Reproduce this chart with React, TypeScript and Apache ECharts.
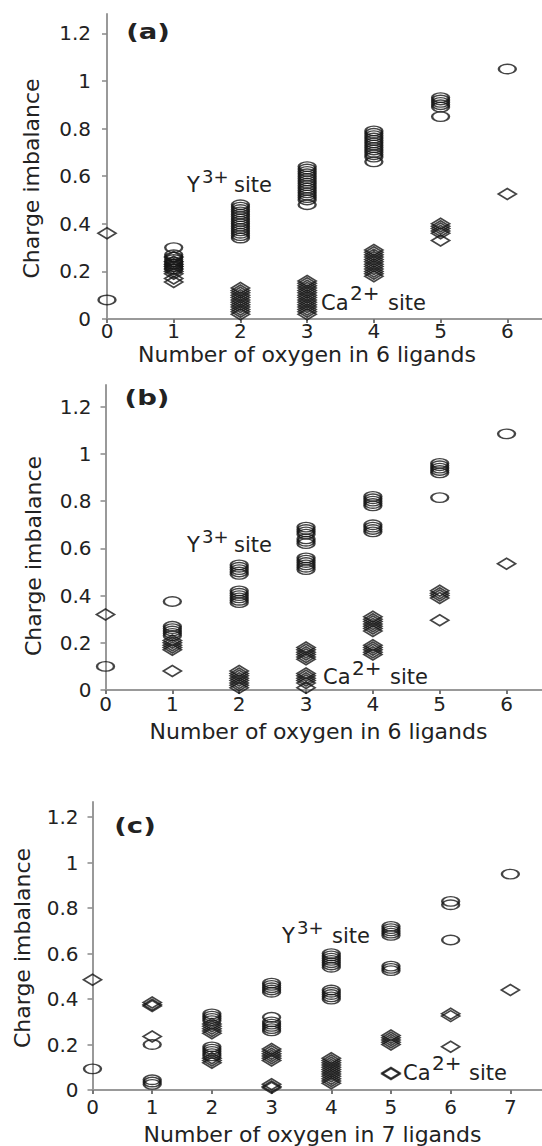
import React, { useEffect, useRef } from "react";
import * as echarts from "echarts";

// ---------- data ----------
const yTicks = [0, 0.2, 0.4, 0.6, 0.8, 1, 1.2];
const xTicks6 = [0, 1, 2, 3, 4, 5, 6];
const xTicks7 = [0, 1, 2, 3, 4, 5, 6, 7];

// panel (a): Y3+ site (ellipses) and Ca2+ site (diamonds)
const aY: [number, number][] = [
  [0, 0.08],
  [1, 0.3], [1, 0.27], [1, 0.26], [1, 0.25], [1, 0.24], [1, 0.23], [1, 0.22], [1, 0.21],
  [2, 0.48], [2, 0.47], [2, 0.46], [2, 0.45], [2, 0.44], [2, 0.43], [2, 0.42], [2, 0.41], [2, 0.4], [2, 0.39], [2, 0.38], [2, 0.37], [2, 0.36], [2, 0.35], [2, 0.34],
  [3, 0.64], [3, 0.63], [3, 0.62], [3, 0.61], [3, 0.6], [3, 0.59], [3, 0.58], [3, 0.57], [3, 0.56], [3, 0.55], [3, 0.54], [3, 0.53], [3, 0.52], [3, 0.51], [3, 0.5], [3, 0.48],
  [4, 0.79], [4, 0.78], [4, 0.77], [4, 0.76], [4, 0.75], [4, 0.74], [4, 0.73], [4, 0.72], [4, 0.71], [4, 0.7], [4, 0.69], [4, 0.68], [4, 0.66],
  [5, 0.93], [5, 0.92], [5, 0.91], [5, 0.9], [5, 0.89], [5, 0.85],
  [6, 1.05],
];
const aCa: [number, number][] = [
  [0, 0.36],
  [1, 0.26], [1, 0.24], [1, 0.23], [1, 0.22], [1, 0.21], [1, 0.2], [1, 0.19], [1, 0.17], [1, 0.155],
  [2, 0.13], [2, 0.12], [2, 0.11], [2, 0.1], [2, 0.09], [2, 0.08], [2, 0.07], [2, 0.06], [2, 0.05], [2, 0.04], [2, 0.03], [2, 0.02],
  [3, 0.16], [3, 0.15], [3, 0.14], [3, 0.13], [3, 0.12], [3, 0.11], [3, 0.1], [3, 0.09], [3, 0.08], [3, 0.07], [3, 0.06], [3, 0.05], [3, 0.04], [3, 0.03], [3, 0.02],
  [4, 0.29], [4, 0.28], [4, 0.27], [4, 0.26], [4, 0.25], [4, 0.24], [4, 0.23], [4, 0.22], [4, 0.21], [4, 0.2], [4, 0.19], [4, 0.18],
  [5, 0.4], [5, 0.39], [5, 0.38], [5, 0.37], [5, 0.36], [5, 0.33],
  [6, 0.525],
];

// panel (b)
const bY: [number, number][] = [
  [0, 0.1],
  [1, 0.375], [1, 0.27], [1, 0.26], [1, 0.25], [1, 0.24], [1, 0.23],
  [2, 0.53], [2, 0.52], [2, 0.51], [2, 0.5], [2, 0.49], [2, 0.42], [2, 0.41], [2, 0.4], [2, 0.39], [2, 0.38], [2, 0.37],
  [3, 0.69], [3, 0.68], [3, 0.67], [3, 0.66], [3, 0.64], [3, 0.63], [3, 0.62], [3, 0.56], [3, 0.55], [3, 0.54], [3, 0.53], [3, 0.52], [3, 0.51],
  [4, 0.82], [4, 0.81], [4, 0.8], [4, 0.79], [4, 0.78], [4, 0.7], [4, 0.69], [4, 0.68], [4, 0.67],
  [5, 0.96], [5, 0.95], [5, 0.94], [5, 0.93], [5, 0.92], [5, 0.815],
  [6, 1.085],
];
const bCa: [number, number][] = [
  [0, 0.32],
  [1, 0.21], [1, 0.2], [1, 0.19], [1, 0.18], [1, 0.17], [1, 0.08],
  [2, 0.08], [2, 0.07], [2, 0.06], [2, 0.05], [2, 0.04], [2, 0.03], [2, 0.02], [2, 0.01],
  [3, 0.18], [3, 0.17], [3, 0.16], [3, 0.15], [3, 0.14], [3, 0.13], [3, 0.07], [3, 0.06], [3, 0.05], [3, 0.04], [3, 0.03], [3, 0.01],
  [4, 0.31], [4, 0.3], [4, 0.29], [4, 0.28], [4, 0.27], [4, 0.26], [4, 0.25], [4, 0.19], [4, 0.18], [4, 0.17], [4, 0.16], [4, 0.15],
  [5, 0.42], [5, 0.41], [5, 0.4], [5, 0.39], [5, 0.295],
  [6, 0.535],
];

// panel (c)
const cY: [number, number][] = [
  [0, 0.093],
  [1, 0.2], [1, 0.045], [1, 0.035], [1, 0.025],
  [2, 0.335], [2, 0.325], [2, 0.315], [2, 0.305], [2, 0.19], [2, 0.18], [2, 0.17], [2, 0.16], [2, 0.15],
  [3, 0.47], [3, 0.46], [3, 0.45], [3, 0.44], [3, 0.43], [3, 0.32], [3, 0.3], [3, 0.29], [3, 0.28], [3, 0.27], [3, 0.26],
  [4, 0.6], [4, 0.59], [4, 0.58], [4, 0.57], [4, 0.56], [4, 0.55], [4, 0.54], [4, 0.44], [4, 0.43], [4, 0.42], [4, 0.41], [4, 0.4],
  [5, 0.72], [5, 0.71], [5, 0.7], [5, 0.69], [5, 0.68], [5, 0.545], [5, 0.535], [5, 0.525],
  [6, 0.83], [6, 0.815], [6, 0.66],
  [7, 0.95],
];
const cCa: [number, number][] = [
  [0, 0.485],
  [1, 0.385], [1, 0.375], [1, 0.37], [1, 0.235],
  [2, 0.29], [2, 0.28], [2, 0.27], [2, 0.26], [2, 0.25], [2, 0.14], [2, 0.13], [2, 0.12],
  [3, 0.18], [3, 0.17], [3, 0.16], [3, 0.15], [3, 0.14], [3, 0.13], [3, 0.025], [3, 0.015], [3, 0.01],
  [4, 0.14], [4, 0.13], [4, 0.12], [4, 0.11], [4, 0.1], [4, 0.09], [4, 0.08], [4, 0.07], [4, 0.06], [4, 0.05], [4, 0.04], [4, 0.03],
  [5, 0.24], [5, 0.23], [5, 0.22], [5, 0.21], [5, 0.2], [5, 0.075], [5, 0.07],
  [6, 0.335], [6, 0.325], [6, 0.19],
  [7, 0.44],
];

// ---------- styles ----------
const FONT = "DejaVu Sans";
const TXT = "#222";
const ELLIPSE =
  "path://M0,5C0,2.24,4.48,0,10,0C15.52,0,20,2.24,20,5C20,7.76,15.52,10,10,10C4.48,10,0,7.76,0,5Z";

const markerStyle = {
  color: "rgba(0,0,0,0)",
  borderColor: "#151515",
  borderWidth: 1.8,
};

function makeX(gridIndex: number, max: number, ticks: number[], margin: number) {
  return {
    type: "value",
    gridIndex,
    min: 0,
    max,
    interval: 1,
    axisLine: { show: true, onZero: false, lineStyle: { color: "#999", width: 2 } },
    axisTick: { show: true, length: 4, customValues: ticks, lineStyle: { color: "#777", width: 2 } },
    axisLabel: {
      customValues: ticks,
      margin,
      fontSize: 20,
      fontFamily: FONT,
      color: TXT,
    },
    splitLine: { show: false },
  };
}

function makeY(gridIndex: number, max: number, margin: number) {
  return {
    type: "value",
    gridIndex,
    min: 0,
    max,
    interval: 0.2,
    axisLine: { show: true, onZero: false, lineStyle: { color: "#999", width: 2 } },
    axisTick: { show: true, length: 5, customValues: yTicks, lineStyle: { color: "#888", width: 1.5 } },
    axisLabel: {
      customValues: yTicks,
      margin,
      fontSize: 20,
      fontFamily: FONT,
      color: TXT,
    },
    splitLine: { show: false },
  };
}

function scatter(idx: number, data: [number, number][], kind: "e" | "d") {
  return {
    type: "scatter",
    xAxisIndex: idx,
    yAxisIndex: idx,
    data,
    clip: false,
    symbol: kind === "e" ? ELLIPSE : "diamond",
    symbolSize: kind === "e" ? [17, 9.5] : [18, 11],
    itemStyle: markerStyle,
    emphasis: { disabled: true },
  };
}

function txt(text: string, x: number, y: number, size: number, extra: any = {}) {
  return {
    type: "text",
    x,
    y,
    silent: true,
    ...extra,
    style: {
      text,
      fontSize: size,
      fontFamily: FONT,
      fill: TXT,
      align: extra.align || "left",
      verticalAlign: "middle",
      fontWeight: extra.fontWeight || "normal",
    },
  };
}

function site(
  main: string,
  sup: string,
  supSize: number,
  xMain: number,
  xSup: number,
  xSite: number,
  yMid: number,
  ySup: number
) {
  return [
    txt(main, xMain, yMid, 21),
    txt(sup, xSup, ySup, supSize),
    txt("site", xSite, yMid, 21),
  ];
}

export default function App() {
  const ref = useRef<HTMLDivElement>(null);
  useEffect(() => {
    if (!ref.current) return;
    const chart = echarts.init(ref.current, undefined, { renderer: "svg" });
    const option: any = {
      animation: false,
      backgroundColor: "#fff",
      grid: [
        { left: 107, top: 14, width: 435, height: 305, outerBoundsMode: "none" },
        { left: 105.5, top: 385, width: 436.5, height: 305, outerBoundsMode: "none" },
        { left: 92.5, top: 802, width: 449.5, height: 288, outerBoundsMode: "none" },
      ],
      xAxis: [makeX(0, 6.52, xTicks6, 2), makeX(1, 6.53, xTicks6, 4), makeX(2, 7.53, xTicks7, 7)],
      yAxis: [makeY(0, 1.281, 16), makeY(1, 1.292, 14), makeY(2, 1.267, 14)],
      series: [
        scatter(0, aY, "e"),
        scatter(0, aCa, "d"),
        scatter(1, bY, "e"),
        scatter(1, bCa, "d"),
        scatter(2, cY, "e"),
        scatter(2, cCa, "d"),
      ],
      graphic: [
        // panel labels
        txt("(a)", 148, 31.5, 22, { align: "center", fontWeight: "bold", scaleX: 1.25 }),
        txt("(b)", 147, 397.5, 22, { align: "center", fontWeight: "bold", scaleX: 1.25 }),
        txt("(c)", 135, 825, 22, { align: "center", fontWeight: "bold", scaleX: 1.25 }),
        // axis titles
        txt("Charge imbalance", 31.5, 178.5, 22, { align: "center", rotation: Math.PI / 2 }),
        txt("Charge imbalance", 33.5, 556, 22, { align: "center", rotation: Math.PI / 2 }),
        txt("Charge imbalance", 22.5, 948, 22, { align: "center", rotation: Math.PI / 2 }),
        txt("Number of oxygen in 6 ligands", 307, 354, 22, { align: "center" }),
        txt("Number of oxygen in 6 ligands", 318.5, 731, 22, { align: "center" }),
        txt("Number of oxygen in 7 ligands", 312.5, 1134, 22, { align: "center" }),
        // site annotations
        ...site("Y", "3+", 18, 187, 202, 234, 185, 176.5),
        ...site("Ca", "2+", 20, 321, 350, 388, 303, 293),
        ...site("Y", "3+", 18, 187, 202, 234, 545, 536),
        ...site("Ca", "2+", 20, 323, 352, 390, 677, 668),
        ...site("Y", "3+", 18, 282, 297, 332, 935.5, 927),
        ...site("Ca", "2+", 20, 403, 432, 469, 1072.5, 1063),
      ],
    };
    chart.setOption(option);
    return () => chart.dispose();
  }, []);
  return (
    <div
      ref={ref}
      style={{ position: "absolute", left: 0, top: 0, width: 542, height: 1146 }}
    />
  );
}
